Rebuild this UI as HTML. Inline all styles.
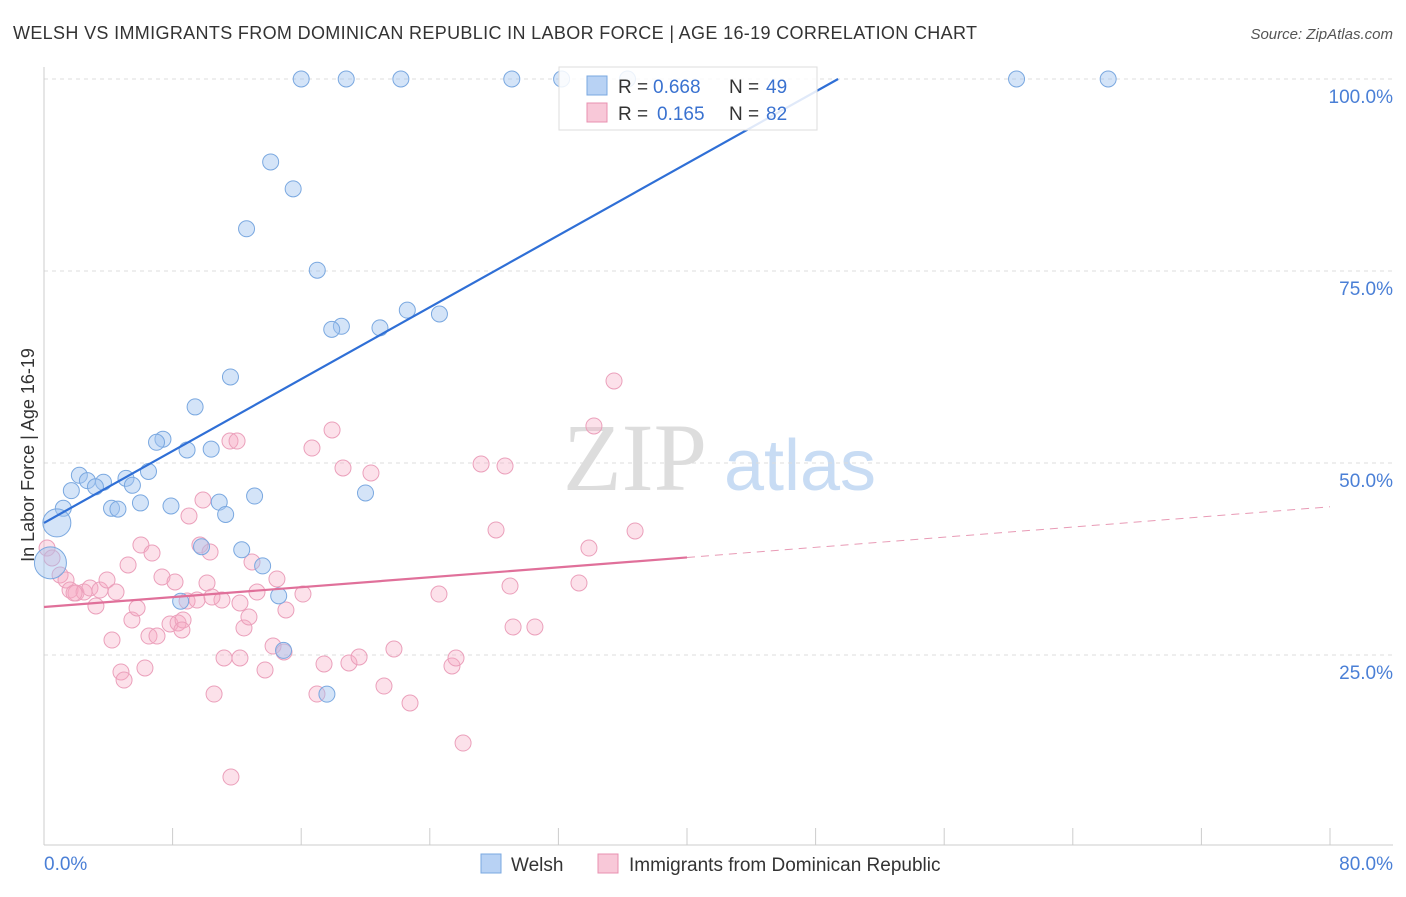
<!DOCTYPE html>
<html><head><meta charset="utf-8"><style>
body{margin:0;background:#fff;font-family:"Liberation Sans",sans-serif}
</style></head><body>
<svg width="1406" height="892" xmlns="http://www.w3.org/2000/svg" font-family="Liberation Sans, sans-serif">
<text x="13" y="39" font-size="18" fill="#333" textLength="964" lengthAdjust="spacing">WELSH VS IMMIGRANTS FROM DOMINICAN REPUBLIC IN LABOR FORCE | AGE 16-19 CORRELATION CHART</text>
<text x="1393" y="39" font-size="15" fill="#555" text-anchor="end" font-style="italic">Source: ZipAtlas.com</text>
<g>
<text x="635" y="490" font-size="96" font-family="Liberation Serif, serif" fill="#ddd" text-anchor="middle">ZIP</text>
<text x="800" y="490" font-size="72" fill="#c8dcf4" text-anchor="middle">atlas</text>
</g>
<g id="grid"></g>
<g id="axes"></g>
<g id="pts"></g>
<g id="lines"></g>
<g>
<rect x="559" y="67" width="258" height="63" fill="#fff" fill-opacity="0.85" stroke="#ddd"/>
<rect x="587" y="76" width="20" height="19" fill="#b8d2f4" stroke="#7aa8e0"/>
<text x="618" y="93" font-size="19" fill="#333">R =</text>
<text x="653" y="93" font-size="19" fill="#3a72d0">0.668</text>
<text x="729" y="93" font-size="19" fill="#333">N =</text>
<text x="766" y="93" font-size="19" fill="#3a72d0">49</text>
<rect x="587" y="103" width="20" height="19" fill="#f8c8d8" stroke="#e890b0"/>
<text x="618" y="120" font-size="19" fill="#333">R =</text>
<text x="657" y="120" font-size="19" fill="#3a72d0">0.165</text>
<text x="729" y="120" font-size="19" fill="#333">N =</text>
<text x="766" y="120" font-size="19" fill="#3a72d0">82</text>
</g>
<g>
<rect x="481" y="854" width="20" height="19" fill="#b8d2f4" stroke="#7aa8e0"/>
<text x="511" y="871" font-size="19" fill="#333">Welsh</text>
<rect x="598" y="854" width="20" height="19" fill="#f8c8d8" stroke="#e890b0"/>
<text x="629" y="871" font-size="19" fill="#333">Immigrants from Dominican Republic</text>
</g>
<text transform="translate(34,455) rotate(-90)" font-size="18" fill="#333" text-anchor="middle">In Labor Force | Age 16-19</text>
</svg>
<script>
const xTicks=[0,8,16,24,32,40,48,56,64,72,80];
const yTicks=[25,50,75,100];
const yTickLabels=["25.0%","50.0%","75.0%","100.0%"];
const blueX=[16.0,18.8,22.2,29.1,32.2,36.3,60.5,66.2,14.1,15.5,12.6,17.0,22.6,24.6,18.5,17.9,20.9,11.6,9.4,7.4,7.0,8.9,10.4,6.5,5.1,5.5,2.2,2.7,3.7,3.2,1.7,1.2,4.2,4.6,6.0,7.9,10.9,13.1,20.0,11.3,0.8,12.3,9.8,13.6,14.6,8.5,14.9,17.6,0.4];
const blueY=[100,100,100,100,100,100,100,100,89.2,85.7,80.5,75.1,69.9,69.4,67.8,67.4,67.6,61.2,57.3,53.1,52.7,51.7,51.8,48.9,48.0,47.1,48.4,47.7,47.5,46.9,46.4,44.1,44.1,44.0,44.8,44.4,44.9,45.7,46.1,43.3,42.2,38.7,39.1,36.6,32.7,32.0,25.6,19.9,37.0];
const blueR=[8,8,8,8,8,8,8,8,8,8,8,8,8,8,8,8,8,8,8,8,8,8,8,8,8,8,8,8,8,8,8,8,8,8,8,8,8,8,8,8,14,8,8,8,8,8,8,8,16];
const pinkPx=[47,52,60,66,70,76,84,90,96,100,107,116,112,121,124,128,132,137,141,145,149,152,157,162,170,175,178,183,187,189,197,200,203,207,210,214,222,224,230,237,240,244,249,252,257,265,273,277,284,286,303,312,317,324,332,343,349,359,371,384,394,410,439,452,456,463,481,496,505,510,513,535,579,589,594,614,635,231,182,212,240,74];
const pinkPy=[548,558,575,580,590,593,592,588,606,590,580,592,640,672,680,565,620,608,545,668,636,553,636,577,624,582,623,620,601,516,600,545,500,583,552,694,600,658,441,441,658,628,617,562,592,670,646,579,652,610,594,448,694,664,430,468,663,657,473,686,649,703,594,666,658,743,464,530,466,586,627,627,583,548,426,381,531,777,630,597,603,593];
const pinkX=pinkPx.map(p=>+((p-44)/16.075).toFixed(2));
const pinkY=pinkPy.map(p=>+((847-p)/7.68).toFixed(2));
const blueLine=[[0,42.2],[49.4,100]];
const pinkLine=[[0,31.25],[40,37.7]];
const pinkDash=[[40,37.7],[80,44.3]];
const X=v=>44+v*16.075, Y=v=>847-v*7.68;
const NS="http://www.w3.org/2000/svg";
function mk(t,a,p){const e=document.createElementNS(NS,t);for(const k in a)e.setAttribute(k,a[k]);p.appendChild(e);return e;}
const grid=document.getElementById('grid'),axes=document.getElementById('axes'),pts=document.getElementById('pts'),lines=document.getElementById('lines');
yTicks.forEach((t,i)=>{
 const l=mk('line',{x1:44,x2:1393,y1:Y(t),y2:Y(t),stroke:'#ddd','stroke-dasharray':'4,4'},grid);
 
 
 const tx=mk('text',{x:1393,y:Y(t)+24,'font-size':19,fill:'#4a7fd6','text-anchor':'end'},axes);
 tx.textContent=yTickLabels[i];
 
 
});
const ax=mk('line',{x1:44,x2:1393,y1:845,y2:845,stroke:'#ccc'},axes);


const ay=mk('line',{x1:44,x2:44,y1:67,y2:845,stroke:'#ccc'},axes);


xTicks.forEach(t=>{
 const l=mk('line',{x1:X(t),x2:X(t),y1:828,y2:845,stroke:'#ccc'},axes);
 
 
});
[["0.0%",44,'start'],["80.0%",1393,'end']].forEach(d=>{
 const tx=mk('text',{x:d[1],y:870,'font-size':19,fill:'#4a7fd6','text-anchor':d[2]},axes);
 tx.textContent=d[0];
 
 
});
pinkX.forEach((x,i)=>{
 const c=mk('circle',{cx:X(x),cy:Y(pinkY[i]),r:8,fill:'rgba(245,170,195,0.35)',stroke:'#eba0bb','stroke-width':1},pts);
 
 
});
blueX.forEach((x,i)=>{
 const c=mk('circle',{cx:X(x),cy:Y(blueY[i]),r:blueR[i],fill:'rgba(160,195,240,0.45)',stroke:'#7aa8e0','stroke-width':1},pts);
 
 
});
const bl=mk('line',{x1:X(blueLine[0][0]),y1:Y(blueLine[0][1]),x2:X(blueLine[1][0]),y2:Y(blueLine[1][1]),stroke:'#2f6fd6','stroke-width':2.2},lines);


const pl=mk('line',{x1:X(pinkLine[0][0]),y1:Y(pinkLine[0][1]),x2:X(pinkLine[1][0]),y2:Y(pinkLine[1][1]),stroke:'#e0709a','stroke-width':2.2},lines);


const pd=mk('line',{x1:X(pinkDash[0][0]),y1:Y(pinkDash[0][1]),x2:X(pinkDash[1][0]),y2:Y(pinkDash[1][1]),stroke:'#e89ab5','stroke-width':1,'stroke-dasharray':'8,6'},lines);


</script>
</body></html>
